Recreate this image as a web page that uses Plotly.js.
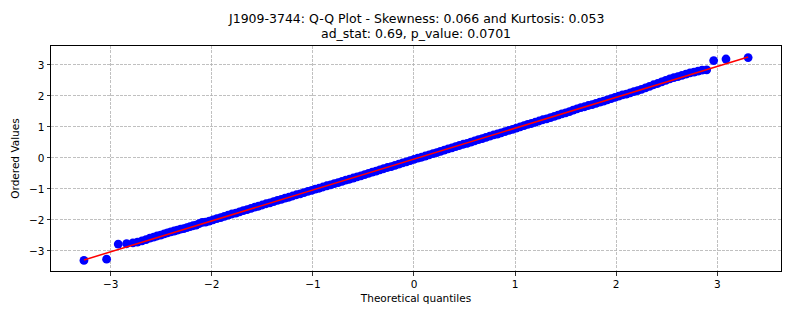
<!DOCTYPE html>
<html>
<head>
<meta charset="utf-8">
<script src="https://cdn.plot.ly/plotly-3.0.1.min.js"></script>
<style>html,body{margin:0;padding:0;background:#fff;}#chart{width:793px;height:317px;}</style>
</head>
<body>
<div id="chart"></div>
<script>
const theoretical = [
-3.264,-3.040,-2.925,-2.842,-2.780,-2.735,-2.690,-2.650,-2.612,-2.575,-2.540,-2.505,-2.470,-2.438,-2.405,-2.372,-2.340,-2.308,-2.277,-2.246,-2.215,-2.185,-2.155,-2.125,-2.095,
-2.062,-2.025,-1.988,-1.950,-1.912,-1.875,-1.838,-1.800,-1.762,-1.725,-1.688,-1.650,-1.612,-1.575,-1.538,-1.500,-1.462,-1.425,-1.388,-1.350,-1.312,-1.275,-1.238,-1.200,-1.162,-1.125,-1.088,-1.050,-1.012,
-0.975,-0.938,-0.900,-0.862,-0.825,-0.788,-0.750,-0.712,-0.675,-0.638,-0.600,-0.562,-0.525,-0.488,-0.450,-0.412,-0.375,-0.338,-0.300,-0.262,-0.225,-0.188,-0.150,-0.112,-0.075,-0.038,
0.000,0.038,0.075,0.112,0.150,0.188,0.225,0.262,0.300,0.338,0.375,0.412,0.450,0.488,0.525,0.562,0.600,0.638,0.675,0.712,0.750,0.788,0.825,0.862,0.900,0.938,0.975,
1.012,1.050,1.088,1.125,1.162,1.200,1.238,1.275,1.312,1.350,1.388,1.425,1.462,1.500,1.538,1.575,1.612,1.650,1.688,1.725,1.762,1.800,1.838,1.875,1.912,1.950,1.988,
2.025,2.062,2.100,2.138,2.175,2.212,2.250,2.290,2.330,2.370,2.410,2.450,2.490,2.530,2.570,2.610,2.650,2.690,2.730,2.770,2.810,2.850,2.895,2.964,3.086,3.305
];
const ordered = [
-3.31,-3.27,-2.78,-2.77,-2.74,-2.72,-2.68,-2.64,-2.59,-2.56,-2.52,-2.49,-2.45,-2.42,-2.39,-2.36,-2.33,-2.30,-2.28,-2.25,-2.22,-2.19,-2.17,-2.12,-2.08,
-2.07,-2.04,-2.00,-1.96,-1.93,-1.89,-1.85,-1.81,-1.78,-1.74,-1.70,-1.67,-1.63,-1.59,-1.56,-1.52,-1.48,-1.45,-1.41,-1.37,-1.34,-1.30,-1.27,-1.23,-1.19,-1.16,-1.12,-1.08,-1.05,
-1.01,-0.98,-0.94,-0.90,-0.87,-0.83,-0.80,-0.76,-0.72,-0.69,-0.65,-0.61,-0.58,-0.54,-0.50,-0.46,-0.43,-0.39,-0.35,-0.31,-0.28,-0.24,-0.20,-0.16,-0.13,-0.09,
-0.05,-0.01,0.02,0.06,0.10,0.14,0.17,0.21,0.25,0.29,0.32,0.36,0.40,0.44,0.47,0.51,0.55,0.59,0.62,0.66,0.70,0.74,0.77,0.81,0.85,0.89,0.92,
0.96,1.00,1.04,1.08,1.11,1.15,1.19,1.23,1.26,1.30,1.34,1.38,1.42,1.45,1.49,1.54,1.58,1.62,1.65,1.69,1.72,1.76,1.80,1.83,1.87,1.91,1.95,
1.99,2.03,2.06,2.10,2.14,2.17,2.21,2.26,2.31,2.36,2.40,2.45,2.50,2.55,2.59,2.62,2.66,2.70,2.74,2.77,2.80,2.83,2.84,3.14,3.19,3.235
];
const fitSlope = 0.997;
const fitIntercept = -0.04;
const titleLines = ["J1909-3744: Q-Q Plot - Skewness: 0.066 and Kurtosis: 0.053", "ad_stat: 0.69, p_value: 0.0701"];
const xTicks = [-3,-2,-1,0,1,2,3];
const yTicks = [-3,-2,-1,0,1,2,3];

const xmin = Math.min(...theoretical), xmax = Math.max(...theoretical);
const lineX = [xmin, xmax];
const lineY = lineX.map(v => fitIntercept + fitSlope * v);

const font = {family: "DejaVu Sans, sans-serif", size: 10.5, color: "#000"};
const titleFont = {family: "DejaVu Sans, sans-serif", size: 12.5, color: "#000"};
const axisCommon = {
  showline: true, linecolor: "#000", linewidth: 1, mirror: true,
  ticks: "outside", ticklen: 3.5, tickwidth: 0.8, tickcolor: "#000",
  showgrid: true, gridcolor: "#b0b0b0", griddash: "3px,1.3px", gridwidth: 0.8,
  zeroline: false, tickfont: font, tickmode: "array"
};

const data = [
  {x: theoretical, y: ordered, type: "scatter", mode: "markers",
   marker: {color: "#0000ff", size: 8.8}, hoverinfo: "skip"},
  {x: lineX, y: lineY, type: "scatter", mode: "lines",
   line: {color: "#ff0000", width: 1.5}, hoverinfo: "skip"}
];
const titlePos = [1.12, 1.055];
const layout = {
  width: 793, height: 317,
  margin: {l: 51, r: 12, t: 46, b: 46},
  paper_bgcolor: "#fff", plot_bgcolor: "#fff",
  showlegend: false,
  font: font,
  annotations: titleLines.map((t, i) => ({
    text: t, xref: "paper", yref: "paper", x: 0.5, y: titlePos[i],
    xanchor: "center", yanchor: "middle", showarrow: false, font: titleFont
  })),
  xaxis: Object.assign({}, axisCommon, {range: [-3.59, 3.63], tickvals: xTicks,
          title: {text: "Theoretical quantiles", font: font, standoff: 5}}),
  yaxis: Object.assign({}, axisCommon, {range: [-3.65, 3.61], tickvals: yTicks,
          title: {text: "Ordered Values", font: font, standoff: 7}})
};
Plotly.newPlot("chart", data, layout, {staticPlot: true, displayModeBar: false});
</script>
</body>
</html>
